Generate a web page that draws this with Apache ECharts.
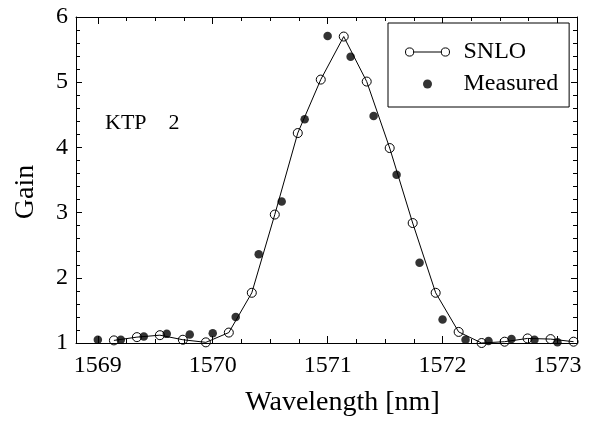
<!DOCTYPE html>
<html>
<head>
<meta charset="utf-8">
<script src="https://cdn.jsdelivr.net/npm/echarts@6/dist/echarts.min.js"></script>
<style>
html,body{margin:0;padding:0;background:#fff;}
#chart{width:592px;height:422px;}
</style>
</head>
<body>
<div id="chart"></div>
<script>
// SNLO calculation (wavelength nm, gain)
var snloX = [1569.14,1569.34,1569.54,1569.74,1569.94,1570.14,1570.34,1570.54,1570.74,1570.94,1571.14,1571.34,1571.54,1571.74,1571.94,1572.14,1572.34,1572.54,1572.74,1572.94,1573.14];
var snloY = [1.04,1.09,1.12,1.05,1.01,1.16,1.77,2.97,4.22,5.04,5.70,5.01,3.99,2.84,1.77,1.17,1.00,1.02,1.07,1.06,1.02];
// Measured
var measX = [1569.0,1569.2,1569.4,1569.6,1569.8,1570.0,1570.2,1570.4,1570.6,1570.8,1571.0,1571.2,1571.4,1571.6,1571.8,1572.0,1572.2,1572.4,1572.6,1572.8,1573.0];
var measY = [1.05,1.05,1.10,1.14,1.13,1.15,1.40,2.36,3.17,4.43,5.71,5.39,4.48,3.58,2.23,1.36,1.05,1.03,1.06,1.05,1.01];
// Axis ticks
var xMajor = [1569,1570,1571,1572,1573];
var xMinor = [1569.25,1569.5,1569.75,1570.25,1570.5,1570.75,1571.25,1571.5,1571.75,1572.25,1572.5,1572.75];
var yTicks = [1,2,3,4,5,6];

var FONT = 'Liberation Serif';
var xMin = 1568.81, xMax = 1573.17;

function pairs(xs, ys){ return xs.map(function(x,i){ return [x, ys[i]]; }); }

var snloIcon = 'path://M0.5 4.5A4 4 0 1 0 8.5 4.5A4 4 0 1 0 0.5 4.5ZM8.5 4.5L35.5 4.5M35.5 4.5A4 4 0 1 0 43.5 4.5A4 4 0 1 0 35.5 4.5Z';

function xAxisDef(pos, major, labels){
  return {
    type: 'value', position: pos, min: xMin, max: xMax,
    axisLine: {show: major, onZero: false, lineStyle: {color: '#000', width: 1}},
    axisTick: {show: true, inside: true, length: major ? 7 : 4, customValues: major ? xMajor : xMinor, lineStyle: {color: '#000', width: 1}},
    axisLabel: {show: labels, customValues: xMajor, color: '#000', fontFamily: FONT, fontSize: 24, margin: 11,
      formatter: function(v){ return String(Math.round(v)); }},
    splitLine: {show: false},
    name: labels ? 'Wavelength [nm]' : '',
    nameLocation: 'middle', nameGap: 46,
    nameTextStyle: {color: '#000', fontFamily: FONT, fontSize: 28, padding: [0, 0, 0, 32]}
  };
}

function yAxisDef(pos, labels){
  return {
    type: 'value', position: pos, min: 1, max: 6, interval: 1,
    axisLine: {show: true, onZero: false, lineStyle: {color: '#000', width: 1}},
    axisTick: {show: true, inside: true, length: 6, lineStyle: {color: '#000'}},
    minorTick: {show: true, splitNumber: 5, length: 4, lineStyle: {color: '#000'}},
    axisLabel: {show: labels, color: '#000', fontFamily: FONT, fontSize: 24, margin: 8,
      formatter: function(v){ return String(Math.round(v)); }},
    splitLine: {show: false},
    name: labels ? 'Gain' : '', nameLocation: 'middle', nameGap: 36,
    nameTextStyle: {color: '#000', fontFamily: FONT, fontSize: 28, padding: [0, 24, 0, 0]}
  };
}

var chart = echarts.init(document.getElementById('chart'), null, {renderer: 'canvas'});
chart.setOption({
  animation: false,
  backgroundColor: '#fff',
  grid: {left: 76, right: 15, top: 17, bottom: 77, containLabel: false},
  xAxis: [
    xAxisDef('bottom', true, true),
    xAxisDef('bottom', false, false),
    xAxisDef('top', true, false),
    xAxisDef('top', false, false)
  ],
  yAxis: [
    yAxisDef('left', true),
    yAxisDef('right', false)
  ],
  legend: {
    orient: 'vertical',
    left: 388, top: 23,
    padding: [17, 11, 11, 17],
    itemWidth: 44, itemHeight: 9, itemGap: 8,
    backgroundColor: '#fff', borderColor: '#000', borderWidth: 1, borderRadius: 0,
    textStyle: {color: '#000', fontFamily: FONT, fontSize: 24, padding: [0, 0, 0, 9]},
    data: [
      {name: 'SNLO', icon: snloIcon, itemStyle: {color: 'rgba(0,0,0,0)', borderColor: '#000', borderWidth: 1}},
      {name: 'Measured', icon: 'circle', itemStyle: {color: '#000', borderWidth: 0}}
    ]
  },
  graphic: [
    {type: 'text', left: 105, top: 112, style: {text: 'KTP    2', fill: '#000', font: '22px "Liberation Serif"'}}
  ],
  series: [
    {
      name: 'SNLO', type: 'line', xAxisIndex: 0, yAxisIndex: 0,
      data: pairs(snloX, snloY),
      symbol: 'circle', symbolSize: 9, showSymbol: true,
      lineStyle: {color: '#000', width: 1},
      itemStyle: {color: 'rgba(0,0,0,0)', borderColor: '#000', borderWidth: 1},
      z: 3
    },
    {
      name: 'Measured', type: 'scatter', xAxisIndex: 0, yAxisIndex: 0,
      data: pairs(measX, measY),
      symbol: 'circle', symbolSize: 8.5,
      itemStyle: {color: '#000'},
      z: 4
    }
  ]
});
</script>
</body>
</html>
